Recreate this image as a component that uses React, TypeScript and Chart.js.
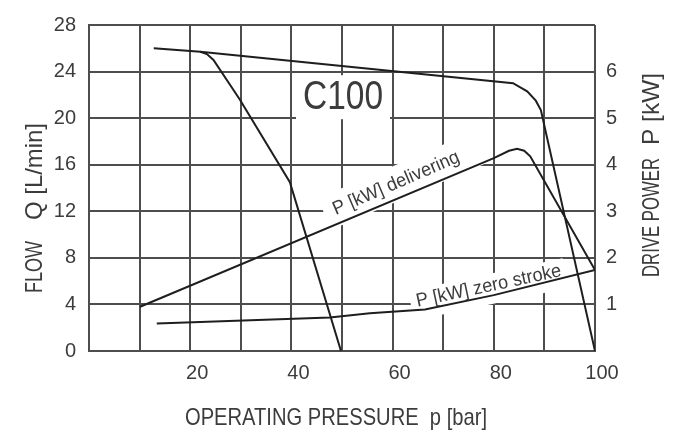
import React, { useEffect, useRef } from "react";
import { Chart, registerables } from "chart.js";

Chart.register(...registerables);

// ---- data (pressure p in bar, flow Q in L/min, power P in kW) ----
const flowA_p = [12.8, 22, 23.3, 24.6, 29.8, 39.7, 49.8];
const flowA_q = [26.0, 25.7, 25.5, 25.0, 21.6, 14.5, 0];
const flowB_p = [22, 83.8, 86.6, 88.3, 89.3, 100];
const flowB_q = [25.7, 23.0, 22.3, 21.5, 20.7, 0];
const powerDeliv_p = [10.1, 80, 83, 84.6, 86, 87.2, 100];
const powerDeliv_kw = [0.95, 4.14, 4.3, 4.34, 4.3, 4.18, 1.74];
const powerZero_p = [13.4, 47.6, 55.5, 66.4, 80, 100];
const powerZero_kw = [0.59, 0.72, 0.81, 0.89, 1.2, 1.74];

const xTickLabels = [20, 40, 60, 80, 100];
const flowTickLabels = [0, 4, 8, 12, 16, 20, 24, 28];
const powerTickLabels = [1, 2, 3, 4, 5, 6];

const chartLabel = "C100";
const delivLabel = "P [kW] delivering";
const zeroLabel = "P [kW] zero stroke";
const xTitle = "OPERATING PRESSURE  p [bar]";
const yTitleA = "FLOW";
const yTitleB = "Q [L/min]";
const y1TitleA = "DRIVE POWER";
const y1TitleB = "P [kW]";

const FONT = '"Liberation Sans", Arial, sans-serif';
const TEXT = "#3c3c3c";
const GRID = "#4d4d4d";
const LINE = "#1e1e1e";

const zip = (xs: number[], ys: number[]) => xs.map((x, i) => ({ x, y: ys[i] }));

// draw text horizontally compressed/stretched to a given width (condensed look)
function fitText(ctx: CanvasRenderingContext2D, text: string, x: number, y: number, width: number) {
  const w = ctx.measureText(text).width || 1;
  ctx.save();
  ctx.translate(x, y);
  ctx.scale(width / w, 1);
  ctx.fillText(text, 0, 0);
  ctx.restore();
}

const annotate = {
  id: "annotate",
  beforeDatasetsDraw(chart: any) {
    const { ctx, scales } = chart;
    const x = scales.x, y = scales.y, y1 = scales.y1;
    ctx.save();
    ctx.fillStyle = "#fff";
    // white box behind C100
    const cx = x.getPixelForValue(50.2), cy = y.getPixelForValue(21.8);
    ctx.fillRect(cx - 47, cy - 22, 94, 44);
    // white band behind "delivering" label
    ctx.save();
    ctx.translate(x.getPixelForValue(60.7), y1.getPixelForValue(3.6));
    ctx.rotate((-23.3 * Math.PI) / 180);
    ctx.fillRect(-78, -17, 173, 34);
    ctx.restore();
    // white band behind "zero stroke" label
    ctx.save();
    ctx.translate(x.getPixelForValue(79), y1.getPixelForValue(1.39));
    ctx.rotate((-12 * Math.PI) / 180);
    ctx.fillRect(-80, -12, 158, 30);
    ctx.restore();
    ctx.restore();
  },
  afterDatasetsDraw(chart: any) {
    const { ctx, scales } = chart;
    const x = scales.x, y = scales.y, y1 = scales.y1;
    ctx.save();
    ctx.fillStyle = TEXT;
    ctx.textAlign = "center";
    ctx.textBaseline = "middle";
    ctx.font = `40px ${FONT}`;
    fitText(ctx, chartLabel, x.getPixelForValue(50.2), y.getPixelForValue(21.8) + 1, 80);

    ctx.font = `19px ${FONT}`;
    ctx.save();
    ctx.translate(x.getPixelForValue(60.7), y1.getPixelForValue(3.6));
    ctx.rotate((-23.3 * Math.PI) / 180);
    fitText(ctx, delivLabel, 0, 0, 136);
    ctx.restore();

    ctx.save();
    ctx.translate(x.getPixelForValue(79), y1.getPixelForValue(1.39));
    ctx.rotate((-12 * Math.PI) / 180);
    fitText(ctx, zeroLabel, 0, 0, 148);
    ctx.restore();
    ctx.restore();
  },
  afterDraw(chart: any) {
    const { ctx } = chart;
    ctx.save();
    ctx.fillStyle = TEXT;
    ctx.font = `24px ${FONT}`;
    ctx.textBaseline = "alphabetic";
    ctx.textAlign = "left";
    fitText(ctx, xTitle, 185, 425, 302);

    ctx.save();
    ctx.translate(42, 293);
    ctx.rotate(-Math.PI / 2);
    fitText(ctx, yTitleA, 0, 0, 52);
    fitText(ctx, yTitleB, 73, 0, 97);
    ctx.restore();

    ctx.save();
    ctx.translate(659, 277);
    ctx.rotate(-Math.PI / 2);
    fitText(ctx, y1TitleA, 0, 0, 119);
    fitText(ctx, y1TitleB, 132, 0, 72);
    ctx.restore();
    ctx.restore();
  },
};

export default function App() {
  const ref = useRef<HTMLCanvasElement>(null);
  useEffect(() => {
    document.body.style.margin = "0";
    if (!ref.current) return;
    const tickFont = { family: FONT, size: 20 };
    const chart = new Chart(ref.current, {
      type: "scatter",
      data: {
        datasets: [
          { label: "Q A", data: zip(flowA_p, flowA_q), yAxisID: "y" },
          { label: "Q B", data: zip(flowB_p, flowB_q), yAxisID: "y" },
          { label: "P delivering", data: zip(powerDeliv_p, powerDeliv_kw), yAxisID: "y1" },
          { label: "P zero stroke", data: zip(powerZero_p, powerZero_kw), yAxisID: "y1" },
        ].map((d) => ({
          ...d,
          showLine: true,
          borderColor: LINE,
          borderWidth: 2,
          pointRadius: 0,
          tension: 0,
          fill: false,
        })),
      },
      options: {
        responsive: false,
        animation: false,
        layout: { padding: { top: 17, left: 0, right: 0, bottom: 0 } },
        plugins: { legend: { display: false }, tooltip: { enabled: false }, title: { display: false } },
        scales: {
          x: {
            type: "linear",
            min: 0,
            max: 100,
            position: "bottom",
            ticks: {
              stepSize: 10,
              autoSkip: false,
              maxRotation: 0,
              labelOffset: 7,
              padding: 10,
              color: TEXT,
              font: tickFont,
              callback: (v: any) => (xTickLabels.includes(Number(v)) ? String(v) : ""),
            },
            grid: { color: GRID, lineWidth: 2, drawTicks: false },
            border: { color: GRID, width: 2 },
            afterFit: (s: any) => {
              s.height = 83;
            },
          },
          y: {
            type: "linear",
            min: 0,
            max: 28,
            position: "left",
            ticks: {
              stepSize: 4,
              padding: 13,
              color: TEXT,
              font: tickFont,
              callback: (v: any) => (flowTickLabels.includes(Number(v)) ? String(v) : ""),
            },
            grid: { color: GRID, lineWidth: 2, drawTicks: false },
            border: { color: GRID, width: 2 },
            afterFit: (s: any) => {
              s.width = 89;
            },
          },
          y1: {
            type: "linear",
            min: 0,
            max: 7,
            position: "right",
            ticks: {
              stepSize: 1,
              padding: 11,
              color: TEXT,
              font: tickFont,
              callback: (v: any) => (powerTickLabels.includes(Number(v)) ? String(v) : ""),
            },
            grid: { drawOnChartArea: false, drawTicks: false },
            border: { display: false },
            afterFit: (s: any) => {
              s.width = 82;
            },
          },
        },
      },
      plugins: [annotate],
    });
    return () => chart.destroy();
  }, []);
  return (
    <div style={{ width: 677, height: 434 }}>
      <canvas ref={ref} width={677} height={434} style={{ display: "block" }} />
    </div>
  );
}
